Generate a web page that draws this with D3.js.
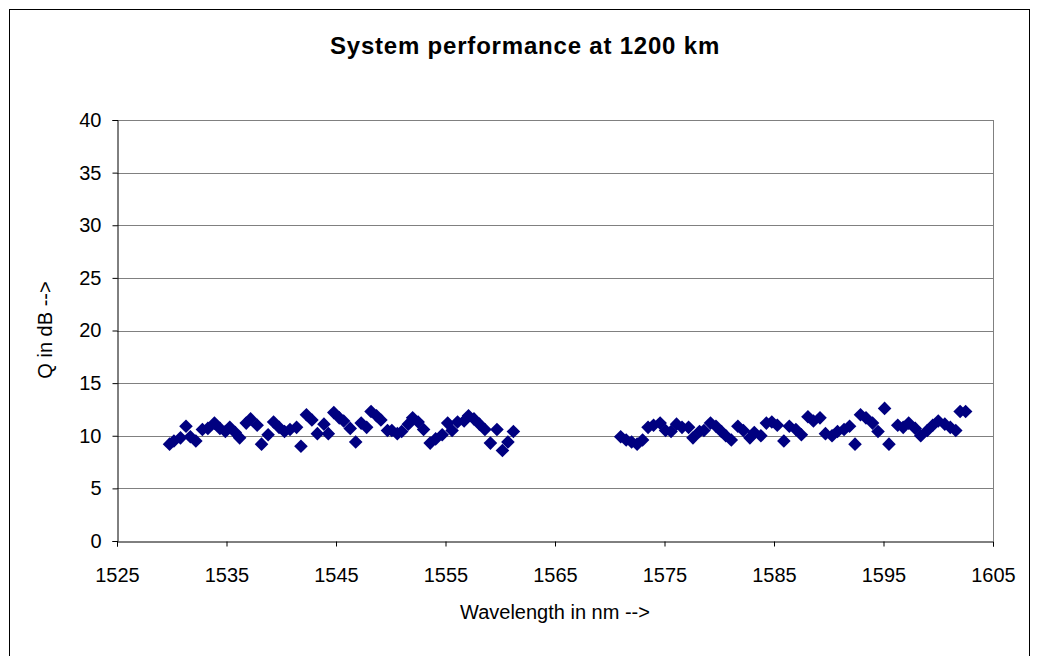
<!DOCTYPE html>
<html>
<head>
<meta charset="utf-8">
<script src="https://cdn.jsdelivr.net/npm/d3@7"></script>
<style>
  html, body { margin: 0; padding: 0; background: #fff; }
  svg { display: block; font-family: "Liberation Sans", Arial, sans-serif; }
</style>
</head>
<body>
<svg id="chart" width="1037" height="656"></svg>
<script>
// Band 1 (C-band) channels: wavelength (nm) and Q (dB)
const wavelengthsC = [
  1529.8, 1530.2, 1530.8, 1531.3, 1531.7, 1532.2, 1532.8, 1533.3, 1533.9, 1534.4,
  1534.9, 1535.3, 1535.8, 1536.2, 1536.8, 1537.2, 1537.8, 1538.2, 1538.8, 1539.3,
  1539.8, 1540.3, 1540.8, 1541.4, 1541.8, 1542.3, 1542.8, 1543.3, 1543.9, 1544.3,
  1544.8, 1545.3, 1545.7, 1546.3, 1546.8, 1547.3, 1547.8, 1548.2, 1548.7, 1549.1,
  1549.7, 1550.1, 1550.6, 1551.0, 1551.6, 1552.0, 1552.5, 1553.0, 1553.6, 1554.1,
  1554.7, 1555.2, 1555.6, 1556.1, 1556.7, 1557.1, 1557.6, 1558.1, 1558.6, 1559.1,
  1559.7, 1560.2, 1560.7, 1561.2
];
const qC = [
  9.2, 9.5, 9.8, 10.9, 9.9, 9.5, 10.6, 10.7, 11.2, 10.7,
  10.4, 10.8, 10.3, 9.8, 11.2, 11.6, 11.0, 9.2, 10.1, 11.3,
  10.8, 10.4, 10.6, 10.8, 9.0, 12.0, 11.5, 10.2, 11.1, 10.2,
  12.2, 11.7, 11.4, 10.7, 9.4, 11.2, 10.8, 12.3, 11.9, 11.5,
  10.5, 10.5, 10.2, 10.4, 11.1, 11.7, 11.3, 10.6, 9.3, 9.7,
  10.1, 11.2, 10.5, 11.3, 11.4, 11.9, 11.6, 11.1, 10.6, 9.3,
  10.6, 8.6, 9.4, 10.4
];

// Band 2 (L-band) channels
const wavelengthsL = [
  1571.0, 1571.5, 1572.0, 1572.5, 1573.0, 1573.5, 1574.0, 1574.6, 1575.1, 1575.6,
  1576.1, 1576.6, 1577.2, 1577.6, 1578.2, 1578.6, 1579.2, 1579.7, 1580.2, 1580.6,
  1581.1, 1581.7, 1582.2, 1582.8, 1583.2, 1583.8, 1584.3, 1584.8, 1585.3, 1585.9,
  1586.4, 1587.0, 1587.5, 1588.1, 1588.6, 1589.2, 1589.7, 1590.3, 1590.8, 1591.4,
  1591.9, 1592.4, 1592.9, 1593.4, 1594.0, 1594.5, 1595.1, 1595.5, 1596.3, 1596.8,
  1597.3, 1597.9, 1598.4, 1599.0, 1599.5, 1600.0, 1600.6, 1601.1, 1601.6, 1602.0,
  1602.5
];
const qL = [
  9.9, 9.6, 9.4, 9.2, 9.6, 10.8, 11.0, 11.2, 10.5, 10.4,
  11.1, 10.8, 10.8, 9.8, 10.4, 10.5, 11.2, 10.9, 10.4, 10.0,
  9.6, 10.9, 10.5, 9.8, 10.3, 10.0, 11.2, 11.3, 11.0, 9.5,
  10.9, 10.6, 10.1, 11.8, 11.4, 11.7, 10.2, 10.0, 10.4, 10.6,
  10.9, 9.2, 12.0, 11.7, 11.2, 10.4, 12.6, 9.2, 11.0, 10.8,
  11.2, 10.7, 10.0, 10.5, 11.0, 11.4, 11.1, 10.8, 10.5, 12.3,
  12.3
];

const xTicks = [1525, 1535, 1545, 1555, 1565, 1575, 1585, 1595, 1605];
const yTicks = [0, 5, 10, 15, 20, 25, 30, 35, 40];

const points = wavelengthsC.map((w, i) => ({ w, q: qC[i] }))
  .concat(wavelengthsL.map((w, i) => ({ w, q: qL[i] })));

const svg = d3.select("#chart");
const plot = { left: 117, right: 993, top: 120, bottom: 541 };
const labelFont = "Liberation Sans, Arial, sans-serif";

// Outer chart frame
svg.append("rect")
  .attr("x", 9.5).attr("y", 9.5)
  .attr("width", 1020).attr("height", 700)
  .attr("fill", "#fff").attr("stroke", "#000").attr("stroke-width", 1);

const x = d3.scaleLinear().domain([1525, 1605]).range([plot.left, plot.right]);
const y = d3.scaleLinear().domain([0, 40]).range([plot.bottom, plot.top]);

// Horizontal gridlines
svg.append("g")
  .selectAll("line")
  .data(yTicks.filter(t => t > 0))
  .join("line")
  .attr("x1", plot.left).attr("x2", plot.right)
  .attr("y1", d => Math.round(y(d)) + 0.5).attr("y2", d => Math.round(y(d)) + 0.5)
  .attr("stroke", "#808080").attr("stroke-width", 1);

// Right border of the plot area
svg.append("line")
  .attr("x1", plot.right + 0.5).attr("x2", plot.right + 0.5)
  .attr("y1", plot.top).attr("y2", plot.bottom)
  .attr("stroke", "#808080");

// Y axis
const yAxis = svg.append("g")
  .attr("transform", `translate(${plot.left + 0.5},0)`)
  .call(d3.axisLeft(y).tickValues(yTicks).tickSize(5).tickPadding(11).tickFormat(d3.format("d")));
yAxis.selectAll("text").attr("font-size", 20).attr("fill", "#000")
  .attr("font-family", labelFont);
yAxis.select(".domain").attr("stroke", "#000");

// X axis
const xAxis = svg.append("g")
  .attr("transform", `translate(0,${plot.bottom + 0.5})`)
  .call(d3.axisBottom(x).tickValues(xTicks).tickSize(5).tickPadding(21).tickFormat(d3.format("d")));
xAxis.selectAll("text").attr("font-size", 20).attr("fill", "#000")
  .attr("font-family", labelFont);
xAxis.select(".domain").attr("stroke", "#000");

// Data markers (diamonds)
const r = 6.8;
svg.append("g")
  .selectAll("path")
  .data(points)
  .join("path")
  .attr("d", `M0,${-r}L${r},0L0,${r}L${-r},0Z`)
  .attr("transform", d => `translate(${x(d.w)},${y(d.q)})`)
  .attr("fill", "#000080");

// Title
svg.append("text")
  .attr("x", 525).attr("y", 54)
  .attr("text-anchor", "middle")
  .attr("font-size", 24).attr("font-weight", "bold")
  .attr("letter-spacing", 0.8)
  .text("System performance at 1200 km");

// Axis titles
svg.append("text")
  .attr("x", 555).attr("y", 619)
  .attr("text-anchor", "middle")
  .attr("font-size", 20)
  .text("Wavelength in nm -->");

svg.append("text")
  .attr("transform", "translate(52,330) rotate(-90)")
  .attr("text-anchor", "middle")
  .attr("font-size", 20)
  .text("Q in dB -->");
</script>
</body>
</html>
